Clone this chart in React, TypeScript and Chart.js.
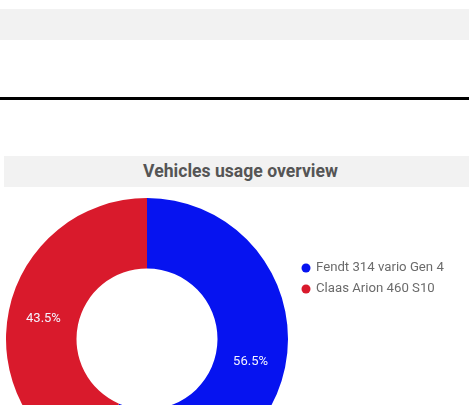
import React, { useEffect, useRef } from "react";
import { Chart, registerables } from "chart.js";

Chart.register(...registerables);

const categories = ["Fendt 314 vario Gen 4", "Claas Arion 460 S10"];
const usageShare = [56.5, 43.5];
const sliceColors = ["#0613f0", "#d91a2c"];
const chartTitle = "Vehicles usage overview";

const FONT = "Roboto, 'Noto Sans', Arial, sans-serif";

const sliceLabelPlugin = {
  id: "sliceLabels",
  afterDatasetsDraw(chart: any) {
    const ctx = chart.ctx;
    const meta = chart.getDatasetMeta(0);
    const data = chart.data.datasets[0].data as number[];
    const total = data.reduce((a, b) => a + b, 0);
    ctx.save();
    ctx.fillStyle = "#f4f4ff";
    ctx.font = `13px ${FONT}`;
    ctx.textAlign = "center";
    ctx.textBaseline = "middle";
    meta.data.forEach((arc: any, i: number) => {
      const { x, y, startAngle, endAngle, innerRadius, outerRadius } = arc.getProps(
        ["x", "y", "startAngle", "endAngle", "innerRadius", "outerRadius"],
        true
      );
      const mid = (startAngle + endAngle) / 2;
      const r = (innerRadius + outerRadius) / 2;
      const pct = ((data[i] / total) * 100).toFixed(1) + "%";
      ctx.fillText(pct, x + Math.cos(mid) * r, y + Math.sin(mid) * r + 1);
    });
    ctx.restore();
  },
};

const sideLegendPlugin = {
  id: "sideLegend",
  afterDraw(chart: any) {
    const ctx = chart.ctx;
    const area = chart.chartArea;
    const labels = chart.data.labels as string[];
    const colors = chart.data.datasets[0].backgroundColor as string[];
    ctx.save();
    ctx.font = `13.2px ${FONT}`;
    ctx.textBaseline = "middle";
    ctx.textAlign = "left";
    labels.forEach((lab, i) => {
      const cy = area.top + 70 + i * 21;
      const cx = area.right + 18;
      ctx.beginPath();
      ctx.fillStyle = colors[i];
      ctx.arc(cx, cy, 4.5, 0, Math.PI * 2);
      ctx.fill();
      ctx.fillStyle = "#6b6b6b";
      ctx.fillText(lab, cx + 10, cy);
    });
    ctx.restore();
  },
};

function DonutChart() {
  const ref = useRef<HTMLCanvasElement | null>(null);
  useEffect(() => {
    if (!ref.current) return;
    const chart = new Chart(ref.current, {
      type: "doughnut",
      data: {
        labels: categories,
        datasets: [
          {
            data: usageShare,
            backgroundColor: sliceColors,
            borderWidth: 0,
          },
        ],
      },
      options: {
        responsive: false,
        animation: false,
        cutout: "50%",
        layout: { padding: { left: 2, top: 10, right: 181, bottom: 8 } },
        plugins: {
          legend: { display: false },
          tooltip: { enabled: false },
        },
      },
      plugins: [sliceLabelPlugin, sideLegendPlugin],
    });
    return () => chart.destroy();
  }, []);
  return <canvas ref={ref} width={465} height={300} style={{ display: "block" }} />;
}

export default function App() {
  return (
    <div
      style={{
        position: "fixed",
        left: 0,
        top: 0,
        width: 469,
        height: 405,
        overflow: "hidden",
        background: "#ffffff",
        fontFamily: FONT,
      }}
    >
      <div style={{ position: "absolute", left: 0, top: 9, width: 469, height: 31, background: "#f2f2f2" }} />
      <div style={{ position: "absolute", left: 0, top: 97, width: 469, height: 3, background: "#000000" }} />
      <div
        style={{
          position: "absolute",
          left: 4,
          top: 156,
          width: 473,
          height: 31,
          background: "#f2f2f2",
          color: "#555555",
          fontWeight: 700,
          fontSize: 17.6,
          lineHeight: "31px",
          textAlign: "center",
        }}
      >
        {chartTitle}
      </div>
      <div style={{ position: "absolute", left: 4, top: 188, width: 465, height: 217, overflow: "hidden" }}>
        <DonutChart />
      </div>
    </div>
  );
}
